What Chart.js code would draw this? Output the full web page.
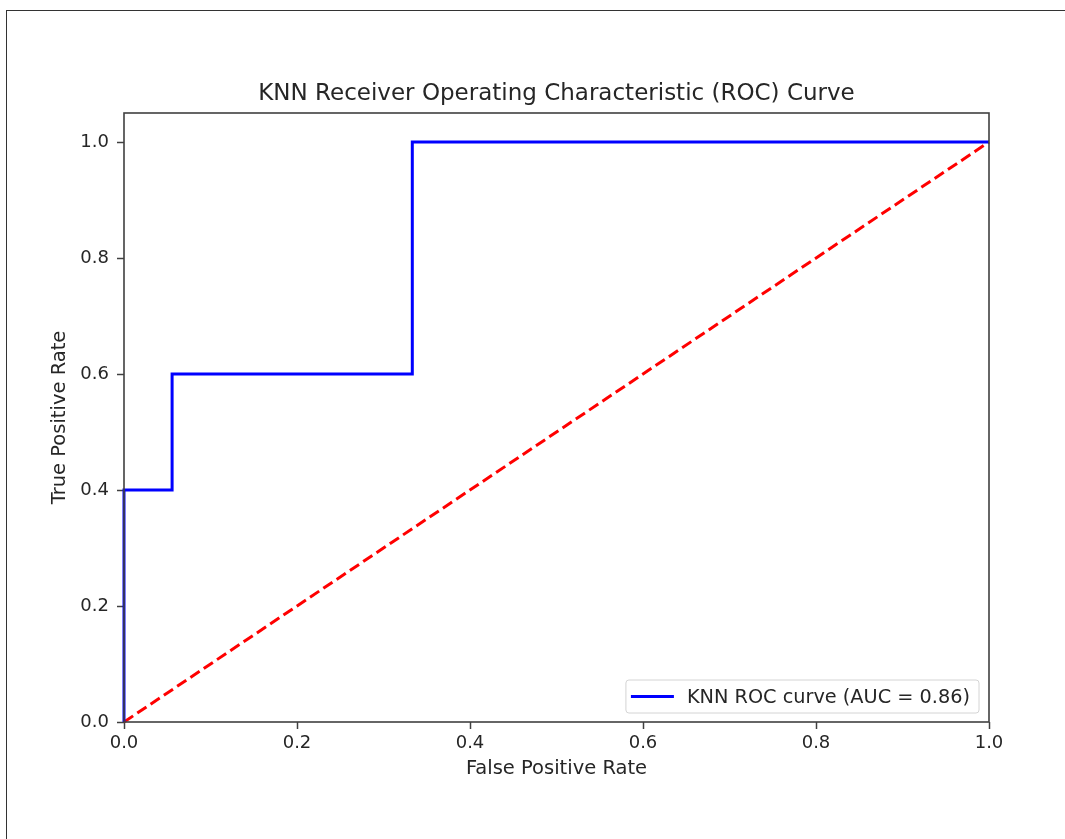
<!DOCTYPE html>
<html>
<head>
<meta charset="utf-8">
<script src="https://cdn.jsdelivr.net/npm/chart.js@4.4.1/dist/chart.umd.min.js"></script>
<style>
  html, body { margin: 0; padding: 0; background: #fff; }
  #wrap { position: relative; width: 1065px; height: 839px; overflow: hidden; }
  #c { position: absolute; left: 0; top: 0; }
  #frame { position: absolute; left: 6px; top: 10px; width: 1200px; height: 1000px;
           border-top: 1.5px solid #333; border-left: 1.5px solid #333; pointer-events: none; }
</style>
</head>
<body>
<div id="wrap">
  <canvas id="c" width="1065" height="839"></canvas>
  <div id="frame"></div>
</div>
<script>
const chartTitle = 'KNN Receiver Operating Characteristic (ROC) Curve';
const xLabel = 'False Positive Rate';
const yLabel = 'True Positive Rate';
const rocLabel = 'KNN ROC curve (AUC = 0.86)';
const fpr = [0, 0, 0.0556, 0.0556, 0.3333, 0.3333, 1.0];
const tpr = [0, 0.4, 0.4, 0.6, 0.6, 1.0, 1.0];
const diagX = [0, 1];
const diagY = [0, 1];
const tickValues = [0, 0.2, 0.4, 0.6, 0.8, 1.0];

const FONT = "'DejaVu Sans', sans-serif";
const TXT = '#262626';
const AX = '#404040';

const centerTitlePlugin = {
  id: 'centerTitle',
  afterLayout(chart) {
    const tb = chart.titleBlock;
    if (tb) {
      tb.left = chart.chartArea.left;
      tb.right = chart.chartArea.right;
      tb.width = tb.right - tb.left;
    }
  }
};

const framePlugin = {
  id: 'frame',
  afterDatasetsDraw(chart) {
    const {ctx, chartArea: a} = chart;
    ctx.save();
    ctx.strokeStyle = AX;
    ctx.lineWidth = 1.6;
    ctx.strokeRect(a.left, a.top, a.right - a.left, a.bottom - a.top);
    ctx.restore();
  }
};

const legendPlugin = {
  id: 'insideLegend',
  afterDraw(chart) {
    const {ctx, chartArea: a} = chart;
    const ds = chart.data.datasets[0];
    ctx.save();
    ctx.font = '19.3px ' + FONT;
    const tw = ctx.measureText(ds.label).width;
    const h = 33;
    const w = 5 + 43 + 13 + tw + 9;
    const x = a.right - 10 - w;
    const y = a.bottom - 9 - h;
    ctx.beginPath();
    ctx.roundRect(x, y, w, h, 3);
    ctx.fillStyle = 'rgba(255,255,255,0.85)';
    ctx.fill();
    ctx.strokeStyle = '#d4d4d4';
    ctx.lineWidth = 1;
    ctx.stroke();
    const cy = y + h / 2;
    ctx.beginPath();
    ctx.moveTo(x + 5, cy);
    ctx.lineTo(x + 48, cy);
    ctx.strokeStyle = ds.borderColor;
    ctx.lineWidth = 3;
    ctx.stroke();
    ctx.fillStyle = TXT;
    ctx.textBaseline = 'middle';
    ctx.textAlign = 'left';
    ctx.fillText(ds.label, x + 61, cy + 1);
    ctx.restore();
  }
};

new Chart(document.getElementById('c'), {
  type: 'scatter',
  data: {
    datasets: [
      {
        label: rocLabel,
        data: fpr.map((v, i) => ({x: v, y: tpr[i]})),
        showLine: true,
        borderColor: '#0000ff',
        backgroundColor: '#0000ff',
        borderWidth: 3,
        pointRadius: 0,
        tension: 0,
        fill: false,
        clip: false
      },
      {
        label: 'diagonal',
        data: diagX.map((v, i) => ({x: v, y: diagY[i]})),
        showLine: true,
        borderColor: '#ff0000',
        backgroundColor: '#ff0000',
        borderWidth: 3,
        borderDash: [11, 5],
        pointRadius: 0,
        fill: false,
        clip: false
      }
    ]
  },
  options: {
    responsive: false,
    animation: false,
    devicePixelRatio: 1,
    layout: { padding: { left: 0, right: 76, top: 0, bottom: 0 } },
    plugins: {
      legend: { display: false },
      tooltip: { enabled: false },
      title: {
        display: true,
        text: chartTitle,
        color: TXT,
        font: { family: FONT, size: 23, weight: 'normal', lineHeight: 1.2 },
        padding: { top: 80, bottom: 5.4 }
      }
    },
    scales: {
      x: {
        type: 'linear',
        min: 0, max: 1,
        afterBuildTicks(scale) { scale.ticks = tickValues.map(v => ({value: v})); },
        afterFit(scale) { scale.height = 117; },
        grid: { display: true, drawOnChartArea: false, drawTicks: true, tickLength: 7, tickColor: AX, tickWidth: 1.5 },
        border: { display: false },
        ticks: {
          color: TXT, padding: 4, maxRotation: 0,
          font: { family: FONT, size: 18 },
          callback: v => v.toFixed(1)
        },
        title: {
          display: true, text: xLabel, color: TXT,
          font: { family: FONT, size: 19.5, lineHeight: 1.2 },
          padding: { top: 0, bottom: 58.3 }
        }
      },
      y: {
        type: 'linear',
        min: 0, max: 1.05,
        afterBuildTicks(scale) { scale.ticks = tickValues.map(v => ({value: v})); },
        afterFit(scale) { scale.width = 124; },
        grid: { display: true, drawOnChartArea: false, drawTicks: true, tickLength: 7, tickColor: AX, tickWidth: 1.5 },
        border: { display: false },
        ticks: {
          color: TXT, padding: 8,
          font: { family: FONT, size: 18 },
          callback: v => v.toFixed(1)
        },
        title: {
          display: true, text: yLabel, color: TXT,
          font: { family: FONT, size: 19.5, lineHeight: 1.2 },
          padding: { top: 48.3, bottom: 0 }
        }
      }
    }
  },
  plugins: [centerTitlePlugin, framePlugin, legendPlugin]
});
</script>
</body>
</html>
